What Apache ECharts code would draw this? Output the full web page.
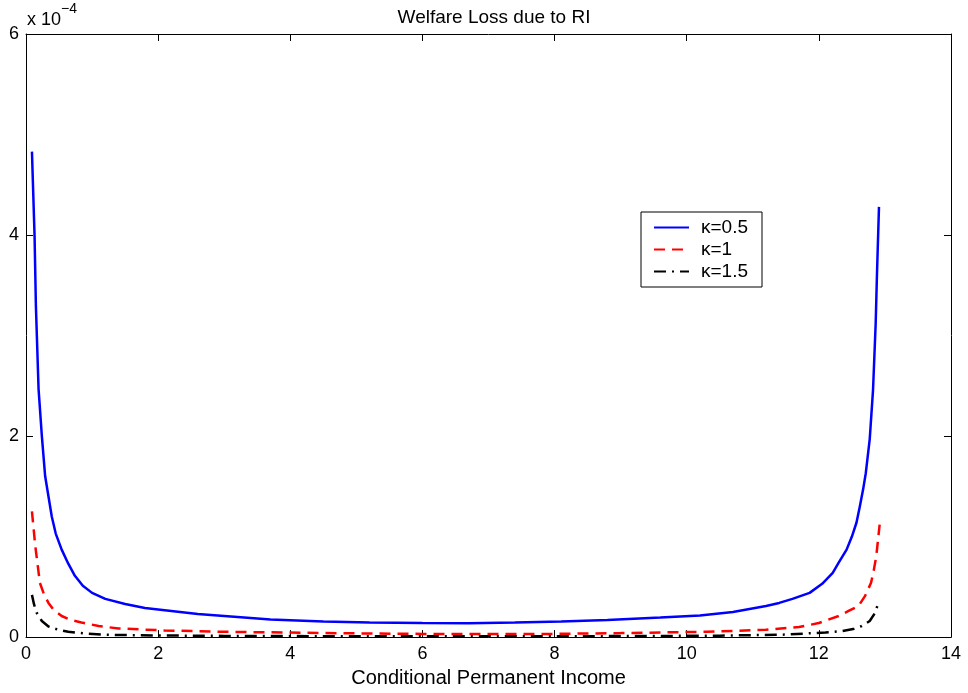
<!DOCTYPE html>
<html>
<head>
    <meta charset="utf-8" />
    <title>Welfare Loss due to RI</title>
    <style>
        body { margin: 0; background: #fff; }
        #chart { width: 968px; height: 693px; }
    </style>
</head>
<body>
    <div id="chart"></div>
    <script src="https://cdn.jsdelivr.net/npm/echarts@6/dist/echarts.min.js"></script>
    <script>
        // values in units of 1e-4: [income, loss]
        var kappa05 = [[0.09, 4.83], [0.13, 3.98], [0.15, 3.29], [0.19, 2.47], [0.24, 2.0], [0.29, 1.60],
            [0.39, 1.20], [0.45, 1.03], [0.54, 0.87], [0.64, 0.73], [0.74, 0.61], [0.86, 0.51], [1.0, 0.44],
            [1.2, 0.38], [1.5, 0.33], [1.8, 0.29], [2.2, 0.26], [2.6, 0.23], [3.0, 0.21], [3.7, 0.175],
            [4.5, 0.155], [5.2, 0.146], [6.0, 0.14], [6.7, 0.139], [7.4, 0.145], [8.1, 0.156], [8.8, 0.17],
            [9.6, 0.195], [10.2, 0.215], [10.7, 0.25], [11.2, 0.31], [11.4, 0.34], [11.6, 0.38], [11.86, 0.44],
            [12.05, 0.53], [12.21, 0.64], [12.3, 0.74], [12.42, 0.87], [12.5, 1.0], [12.57, 1.14], [12.62, 1.30],
            [12.67, 1.47], [12.71, 1.63], [12.74, 1.80], [12.77, 1.97], [12.82, 2.46], [12.86, 3.12],
            [12.88, 3.62], [12.91, 4.28]];
        var kappa1 = [[0.09, 1.25], [0.14, 0.91], [0.21, 0.54], [0.27, 0.43], [0.34, 0.34], [0.42, 0.27],
            [0.54, 0.21], [0.68, 0.17], [0.84, 0.146], [1.1, 0.11], [1.4, 0.086], [2.1, 0.066], [3.0, 0.053],
            [4.0, 0.045], [5.0, 0.037], [6.0, 0.032], [7.0, 0.03], [8.0, 0.032], [9.0, 0.04], [10.3, 0.053],
            [11.2, 0.073], [11.7, 0.1], [12.0, 0.14], [12.3, 0.21], [12.45, 0.26], [12.6, 0.31], [12.7, 0.41],
            [12.79, 0.54], [12.83, 0.66], [12.87, 0.81], [12.92, 1.12]];
        var kappa15 = [[0.09, 0.42], [0.12, 0.33], [0.16, 0.245], [0.24, 0.16], [0.34, 0.106], [0.48, 0.075],
            [0.64, 0.053], [0.9, 0.035], [1.24, 0.023], [2.0, 0.016], [3.0, 0.012], [4.5, 0.009], [6.0, 0.008],
            [7.5, 0.008], [9.0, 0.01], [10.5, 0.014], [11.5, 0.025], [12.1, 0.046], [12.35, 0.06], [12.52, 0.08],
            [12.65, 0.11], [12.77, 0.16], [12.85, 0.24], [12.9, 0.34]];
        var seriesNames = ['\u03ba=0.5', '\u03ba=1', '\u03ba=1.5'];

        var font = 'Liberation Sans';
        var tick = { show: true, inside: true, length: 7, lineStyle: { color: '#000' } };
        var line = { show: true, onZero: false, lineStyle: { color: '#000', width: 1 } };

        var option = {
            animation: false,
            backgroundColor: '#fff',
            textStyle: { fontFamily: font, color: '#000' },
            title: {
                text: 'Welfare Loss due to RI',
                left: 489, top: 3, textAlign: 'center',
                textStyle: { fontFamily: font, fontSize: 19, fontWeight: 'normal', color: '#000' }
            },
            grid: { left: 26, right: 17, top: 34, bottom: 55, show: false },
            legend: {
                orient: 'vertical',
                left: 641, top: 212,
                padding: [6, 14, 6, 12],
                itemGap: 3,
                itemWidth: 35, itemHeight: 19,
                borderColor: '#000', borderWidth: 1,
                backgroundColor: '#fff',
                itemStyle: { opacity: 0 },
                textStyle: { fontFamily: font, fontSize: 19, color: '#000', padding: [0, 0, 0, 7] },
                data: seriesNames
            },
            graphic: [{
                type: 'text', left: 27, top: 2,
                style: {
                    text: '{a|x 10}{b|\u22124}',
                    rich: {
                        a: { fontFamily: font, fontSize: 18, fill: '#000', padding: [9, 0, 0, 0] },
                        b: { fontFamily: font, fontSize: 14, fill: '#000', verticalAlign: 'top' }
                    }
                }
            }],
            xAxis: [{
                type: 'value', min: 0, max: 14, interval: 2,
                name: 'Conditional Permanent Income',
                nameLocation: 'middle', nameGap: 28,
                nameTextStyle: { fontFamily: font, fontSize: 20, color: '#000' },
                axisLine: line,
                axisTick: tick,
                axisLabel: { fontFamily: font, fontSize: 18, color: '#000', margin: 8 },
                splitLine: { show: false }
            }, {
                type: 'value', position: 'top', min: 0, max: 14, interval: 2,
                axisLine: line,
                axisTick: tick,
                axisLabel: { show: false },
                splitLine: { show: false }
            }],
            yAxis: [{
                type: 'value', min: 0, max: 6, interval: 2,
                axisLine: line,
                axisTick: tick,
                axisLabel: { fontFamily: font, fontSize: 18, color: '#000', margin: 7 },
                splitLine: { show: false }
            }, {
                type: 'value', position: 'right', min: 0, max: 6, interval: 2,
                axisLine: line,
                axisTick: tick,
                axisLabel: { show: false },
                splitLine: { show: false }
            }],
            series: [{
                name: seriesNames[0], type: 'line', data: kappa05,
                showSymbol: false, symbol: 'none', smooth: false,
                lineStyle: { color: '#0000ff', width: 2.5, type: 'solid' },
                itemStyle: { color: '#0000ff' }
            }, {
                name: seriesNames[1], type: 'line', data: kappa1,
                showSymbol: false, symbol: 'none', smooth: false,
                lineStyle: { color: '#ff0000', width: 2.5, type: [11, 7] },
                itemStyle: { color: '#ff0000' }
            }, {
                name: seriesNames[2], type: 'line', data: kappa15,
                showSymbol: false, symbol: 'none', smooth: false,
                lineStyle: { color: '#000', width: 2.5, type: [12, 6, 2, 6] },
                itemStyle: { color: '#000' }
            }]
        };

        var chart = echarts.init(document.getElementById('chart'));
        chart.setOption(option);
    </script>
</body>
</html>
